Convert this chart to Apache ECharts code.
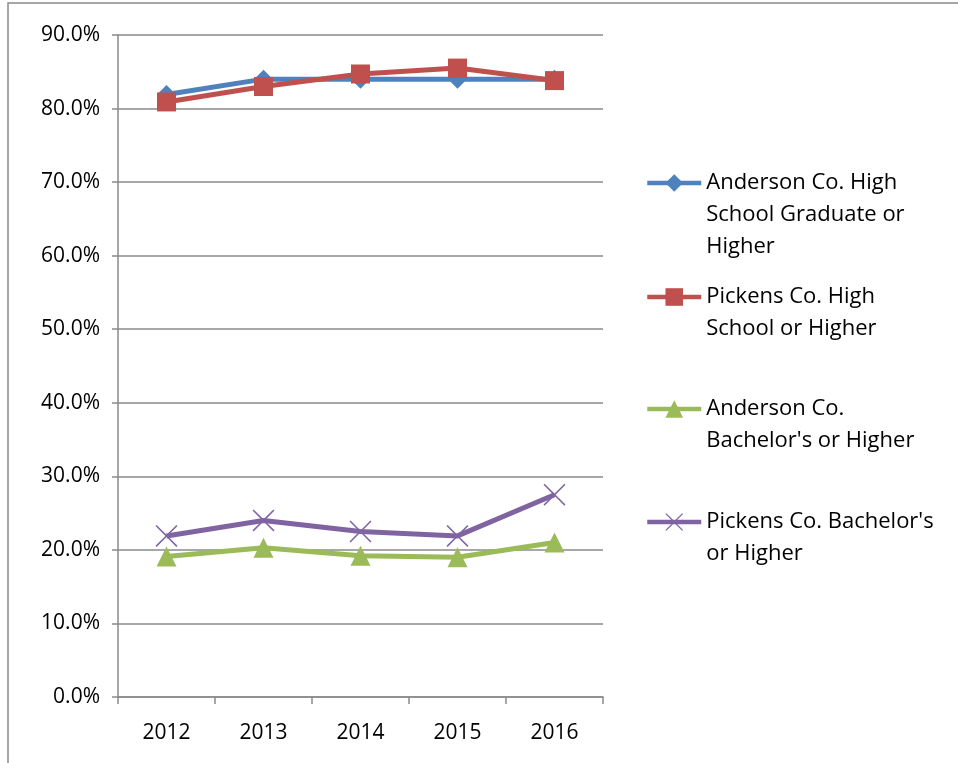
<!DOCTYPE html>
<html><head><meta charset="utf-8">
<script src="https://cdn.jsdelivr.net/npm/echarts@6/dist/echarts.min.js"></script>
<style>html,body{margin:0;padding:0;background:#fff}#c{width:958px;height:763px}</style>
</head><body><div id="c"></div>
<script>
const years = ['2012','2013','2014','2015','2016'];
const andersonHS = [81.9, 84.0, 84.0, 84.0, 84.0];
const pickensHS = [80.9, 83.0, 84.7, 85.5, 83.8];
const andersonBA = [19.1, 20.3, 19.2, 19.0, 21.0];
const pickensBA = [21.9, 24.0, 22.5, 21.9, 27.5];
const names = [
  'Anderson Co. High\nSchool Graduate or\nHigher',
  'Pickens Co. High\nSchool or Higher',
  'Anderson Co.\nBachelor\'s or Higher',
  'Pickens Co. Bachelor\'s\nor Higher'
];
const FONT = 'Open Sans';
const LH = 32;
const xPath = 'path://M0,1 L1,0 L10,9 L19,0 L20,1 L11,10 L20,19 L19,20 L10,11 L1,20 L0,19 L9,10 Z';

function mkLegend(name, firstLineY, lines) {
  return {
    orient: 'vertical', left: 645, top: firstLineY - (lines - 1) * LH - LH / 2,
    padding: 0, itemWidth: 54, itemHeight: 22,
    data: [name], selectedMode: false,
    lineStyle: {width: 4.5},
    formatter: n => '\n'.repeat(lines - 1) + n,
    textStyle: {fontFamily: FONT, fontSize: 22, color: '#000', lineHeight: LH}
  };
}
function mkSeries(name, data, color, symbol, size) {
  return {
    name: name, type: 'line', data: data, symbol: symbol, symbolSize: size,
    lineStyle: {color: color, width: 5}, itemStyle: {color: color},
    emphasis: {disabled: true}, z: 3
  };
}
const chart = echarts.init(document.getElementById('c'), null, {renderer: 'canvas'});
chart.setOption({
  animation: false,
  backgroundColor: '#fff',
  graphic: [{type: 'rect', shape: {x: 8, y: 3, width: 1000, height: 800},
    style: {fill: 'none', stroke: '#8a8a8a', lineWidth: 1.5}, silent: true}],
  grid: {left: 118, top: 35, right: 355, bottom: 66},
  xAxis: {
    type: 'category', data: years, boundaryGap: true,
    axisLine: {lineStyle: {color: '#8a8a8a', width: 1.5}},
    axisTick: {show: true, inside: false, length: 7, lineStyle: {color: '#8a8a8a', width: 1.5}},
    axisLabel: {fontFamily: FONT, fontSize: 21, color: '#000', margin: 26}
  },
  yAxis: {
    type: 'value', min: 0, max: 90, interval: 10,
    axisLine: {show: true, lineStyle: {color: '#8a8a8a', width: 1.5}},
    axisTick: {show: true, length: 6, lineStyle: {color: '#8a8a8a', width: 1.5}},
    splitLine: {lineStyle: {color: '#8a8a8a', width: 1.5}},
    axisLabel: {fontFamily: FONT, fontSize: 21, color: '#000', margin: 18,
      formatter: v => v.toFixed(1) + '%'}
  },
  legend: [
    mkLegend(names[0], 183, 3),
    mkLegend(names[1], 297, 2),
    mkLegend(names[2], 409, 2),
    mkLegend(names[3], 522, 2)
  ],
  series: [
    mkSeries(names[0], andersonHS, '#4F81BD', 'diamond', 19),
    mkSeries(names[1], pickensHS, '#C0504D', 'rect', 19),
    mkSeries(names[2], andersonBA, '#9BBB59', 'triangle', 20),
    mkSeries(names[3], pickensBA, '#8064A2', xPath, 22)
  ]
});
</script></body></html>
